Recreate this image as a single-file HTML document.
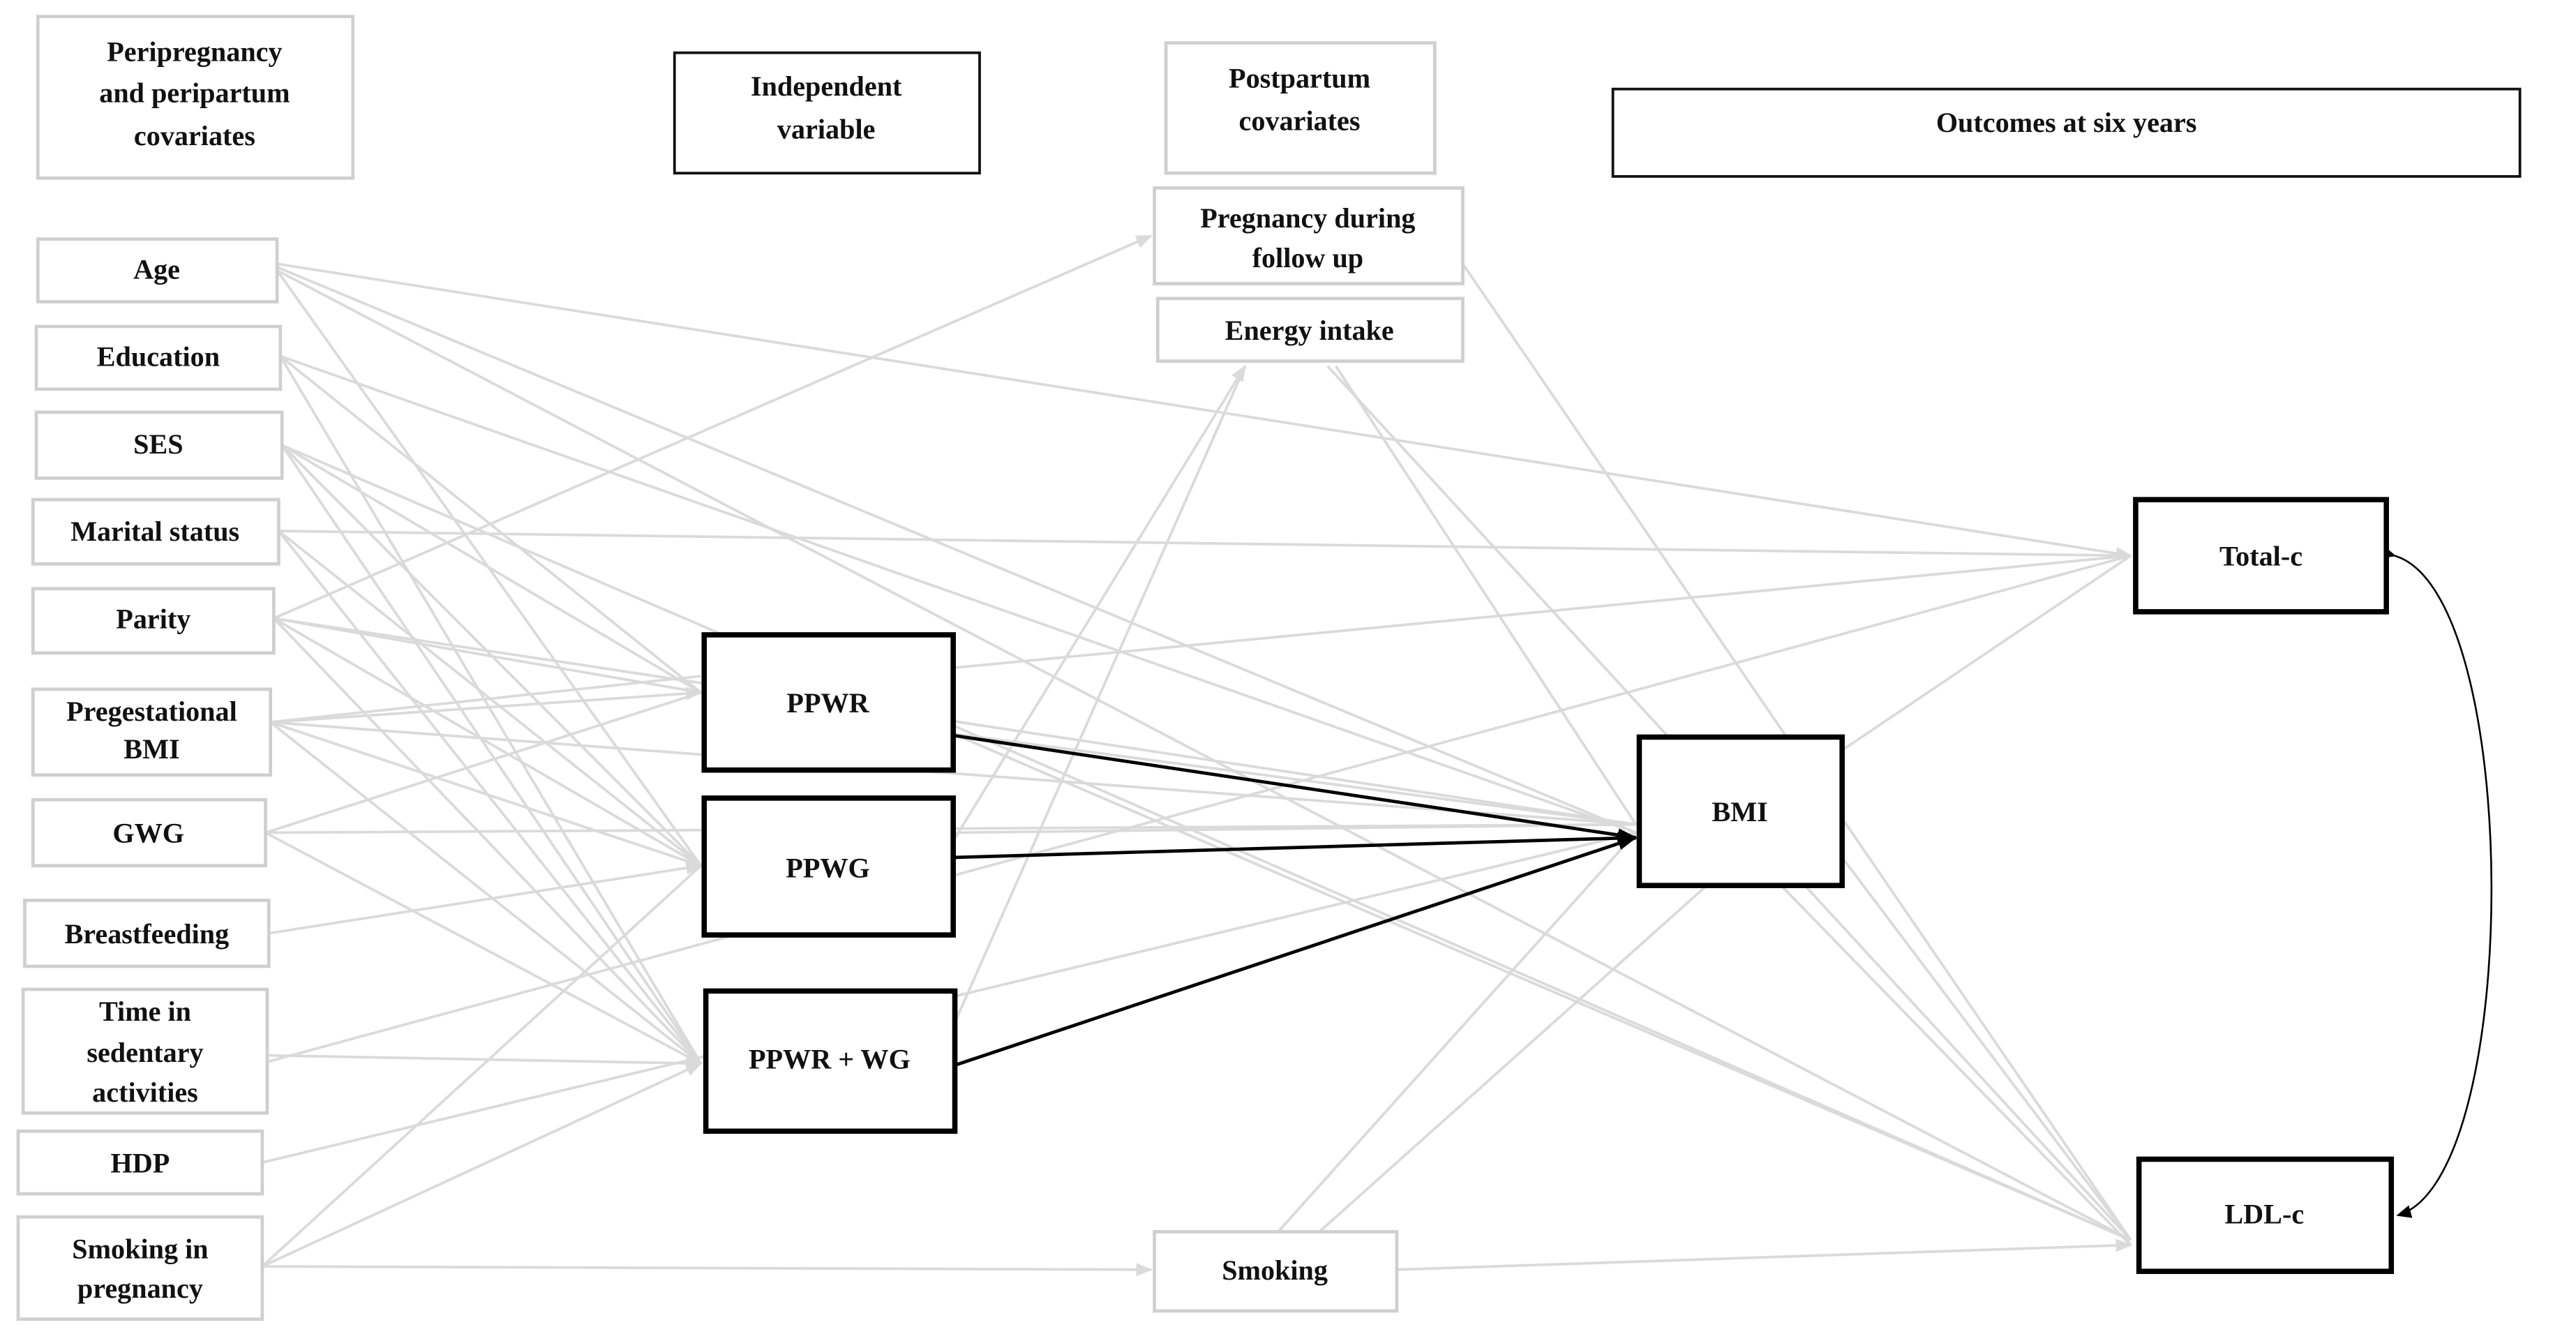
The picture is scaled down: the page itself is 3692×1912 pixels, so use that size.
<!DOCTYPE html>
<html><head><meta charset="utf-8"><style>
html,body{margin:0;padding:0;background:#fff;}
svg{display:block}
text{font-family:"Liberation Serif",serif;font-weight:bold;font-size:17px;fill:#111;text-anchor:middle;}
.g{fill:#fff;stroke:#cfcfcf;stroke-width:2}
.b{fill:#fff;stroke:#000;stroke-width:3.2}
.bt{fill:#fff;stroke:#111;stroke-width:1.6}
.e{stroke:#dadada;stroke-width:1.6;fill:none}
.k{stroke:#000;stroke-width:2;fill:none}
</style></head><body>
<svg width="3692" height="1912" viewBox="0 0 1562 809" preserveAspectRatio="none">
<defs>
<marker id="ag" markerWidth="10" markerHeight="10" refX="9" refY="5" orient="auto" markerUnits="userSpaceOnUse"><path d="M0,1 L10,5 L0,9 z" fill="#dadada"/></marker>
<marker id="ak" markerWidth="12" markerHeight="10" refX="11" refY="5" orient="auto" markerUnits="userSpaceOnUse"><path d="M0,1 L12,5 L0,9 z" fill="#000"/></marker>
<marker id="ak2" markerWidth="9" markerHeight="8" refX="8" refY="4" orient="auto" markerUnits="userSpaceOnUse"><path d="M0,0 L9,4 L0,8 z" fill="#000"/></marker>
</defs>
<g class="e">
<!-- Age -->
<line x1="168" y1="160" x2="1292" y2="337" marker-end="url(#ag)"/>
<line x1="168" y1="162" x2="992" y2="505"/>
<line x1="168" y1="164" x2="1292" y2="752"/>
<line x1="168" y1="164" x2="425" y2="525"/>
<!-- Education -->
<line x1="170" y1="216" x2="425" y2="420"/>
<line x1="170" y1="216" x2="425" y2="645"/>
<line x1="170" y1="216" x2="992" y2="505"/>
<!-- SES -->
<line x1="171" y1="270" x2="425" y2="420"/>
<line x1="171" y1="270" x2="425" y2="525"/>
<line x1="171" y1="270" x2="425" y2="645"/>
<line x1="171" y1="270" x2="1292" y2="752"/>
<!-- Marital -->
<line x1="169" y1="322" x2="1292" y2="337"/>
<line x1="169" y1="322" x2="425" y2="525"/>
<line x1="169" y1="322" x2="425" y2="645"/>
<!-- Parity -->
<line x1="166" y1="375" x2="698" y2="143" marker-end="url(#ag)"/>
<line x1="166" y1="375" x2="425" y2="420"/>
<line x1="166" y1="375" x2="425" y2="525"/>
<line x1="166" y1="375" x2="425" y2="645"/>
<line x1="166" y1="375" x2="992" y2="500"/>
<!-- Pregestational BMI -->
<line x1="164" y1="438" x2="425" y2="420" marker-end="url(#ag)"/>
<line x1="164" y1="438" x2="425" y2="525"/>
<line x1="164" y1="438" x2="425" y2="645"/>
<line x1="164" y1="438" x2="992" y2="500"/>
<line x1="164" y1="438" x2="425" y2="410"/>
<!-- GWG -->
<line x1="161" y1="505" x2="425" y2="420"/>
<line x1="161" y1="505" x2="992" y2="500"/>
<line x1="161" y1="505" x2="425" y2="645"/>
<!-- Breastfeeding -->
<line x1="163" y1="566" x2="425" y2="525" marker-end="url(#ag)"/>
<!-- Time sedentary -->
<line x1="162" y1="640" x2="425" y2="645" marker-end="url(#ag)"/>
<line x1="162" y1="644" x2="1292" y2="337"/>
<!-- HDP -->
<line x1="159" y1="705" x2="992" y2="505"/>
<!-- Smoking in pregnancy -->
<line x1="159" y1="768" x2="698" y2="770" marker-end="url(#ag)"/>
<line x1="159" y1="768" x2="425" y2="525"/>
<line x1="159" y1="768" x2="425" y2="645" marker-end="url(#ag)"/>
<!-- independents -->
<line x1="578" y1="405" x2="1292" y2="337"/>
<line x1="578" y1="440" x2="1292" y2="752"/>
<line x1="578" y1="445" x2="992" y2="500"/>
<line x1="578" y1="510" x2="755" y2="222" marker-end="url(#ag)"/>
<line x1="578" y1="505" x2="992" y2="500"/>
<line x1="579" y1="620" x2="755" y2="222"/>
<!-- postpartum -->
<line x1="887" y1="160" x2="1292" y2="752"/>
<line x1="805" y1="222" x2="1292" y2="752"/>
<line x1="810" y1="222" x2="992" y2="500"/>
<line x1="775" y1="747" x2="992" y2="505"/>
<line x1="800" y1="747" x2="1035" y2="537"/>
<line x1="847" y1="770" x2="1292" y2="755" marker-end="url(#ag)"/>
<!-- BMI out -->
<line x1="1117" y1="455" x2="1292" y2="337"/>
<line x1="1117" y1="520" x2="1292" y2="752"/>
<line x1="1080" y1="537" x2="1292" y2="755"/>
</g>
<g class="k">
<line x1="578" y1="446" x2="992" y2="508" marker-end="url(#ak)"/>
<line x1="578" y1="520" x2="992" y2="508" marker-end="url(#ak)"/>
<line x1="579" y1="646" x2="992" y2="508" marker-end="url(#ak)"/>
<path d="M1452,337 C1530,360 1530,715 1454,737" stroke-width="1.1" marker-start="url(#ak2)" marker-end="url(#ak2)"/>
</g>
<!-- boxes -->
<rect class="g" x="23" y="10" width="191" height="98"/>
<text x="118" y="37">Peripregnancy</text><text x="118" y="62">and peripartum</text><text x="118" y="88">covariates</text>
<rect class="bt" x="409" y="32" width="185" height="73"/>
<text x="501" y="58">Independent</text><text x="501" y="84">variable</text>
<rect class="g" x="707" y="26" width="163" height="79"/>
<text x="788" y="53">Postpartum</text><text x="788" y="79">covariates</text>
<rect class="bt" x="978" y="54" width="550" height="53"/>
<text x="1253" y="80">Outcomes at six years</text>
<rect class="g" x="700" y="114" width="187" height="58"/>
<text x="793" y="138">Pregnancy during</text><text x="793" y="162">follow up</text>
<rect class="g" x="702" y="181" width="185" height="38"/>
<text x="794" y="206">Energy intake</text>
<rect class="g" x="23" y="145" width="145" height="38"/><text x="95" y="169">Age</text>
<rect class="g" x="22" y="198" width="148" height="38"/><text x="96" y="222">Education</text>
<rect class="g" x="22" y="250" width="149" height="40"/><text x="96" y="275">SES</text>
<rect class="g" x="20" y="303" width="149" height="39"/><text x="94" y="328">Marital status</text>
<rect class="g" x="20" y="357" width="146" height="39"/><text x="93" y="381">Parity</text>
<rect class="g" x="20" y="418" width="144" height="52"/><text x="92" y="437">Pregestational</text><text x="92" y="460">BMI</text>
<rect class="g" x="20" y="485" width="141" height="40"/><text x="90" y="511">GWG</text>
<rect class="g" x="15" y="546" width="148" height="40"/><text x="89" y="572">Breastfeeding</text>
<rect class="g" x="14" y="600" width="148" height="75"/><text x="88" y="619">Time in</text><text x="88" y="644">sedentary</text><text x="88" y="668">activities</text>
<rect class="g" x="11" y="686" width="148" height="38"/><text x="85" y="711">HDP</text>
<rect class="g" x="11" y="738" width="148" height="62"/><text x="85" y="763">Smoking in</text><text x="85" y="787">pregnancy</text>
<rect class="g" x="700" y="747" width="147" height="48"/><text x="773" y="776">Smoking</text>
<rect class="b" x="427" y="385" width="151" height="82"/><text x="502" y="432">PPWR</text>
<rect class="b" x="427" y="484" width="151" height="83"/><text x="502" y="532">PPWG</text>
<rect class="b" x="428" y="601" width="151" height="85"/><text x="503" y="648">PPWR + WG</text>
<rect class="b" x="994" y="447" width="123" height="90"/><text x="1055" y="498">BMI</text>
<rect class="b" x="1295" y="303" width="152" height="68"/><text x="1371" y="343">Total-c</text>
<rect class="b" x="1297" y="703" width="153" height="68"/><text x="1373" y="742">LDL-c</text>
</svg>
</body></html>
